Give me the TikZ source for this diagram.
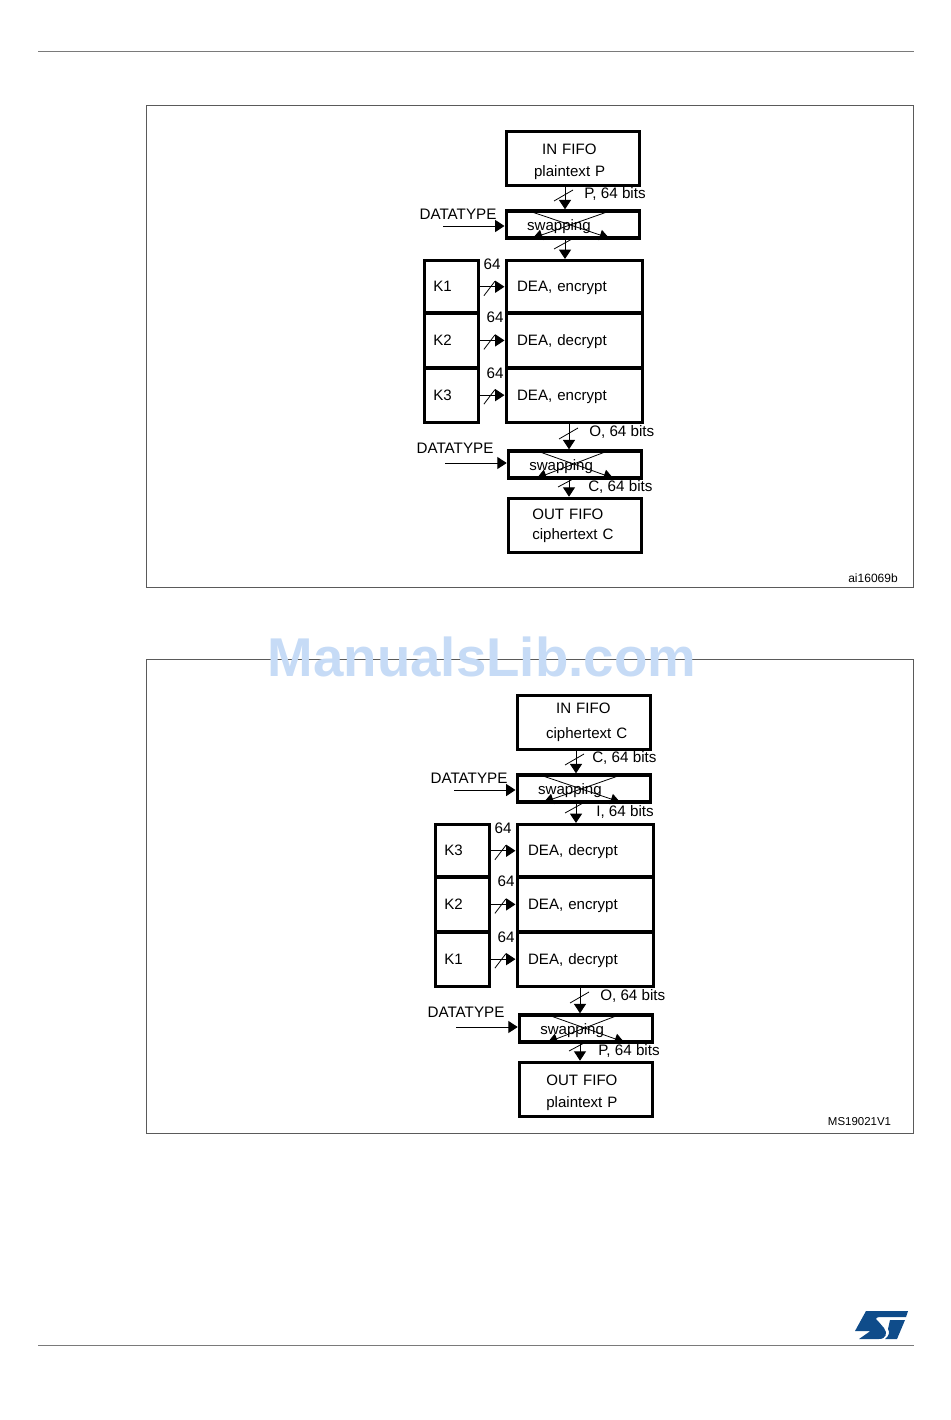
\documentclass[tikz,border=0pt]{standalone}
\usepackage{fontspec}
\setmainfont{Liberation Sans}
\usetikzlibrary{arrows.meta}
\definecolor{framegray}{HTML}{5A5A5A}
\definecolor{rulegray}{HTML}{7A7A7A}
\definecolor{stblue}{HTML}{0F4C8A}
\definecolor{marklight}{HTML}{C6DBF6}
\tikzset{
  boxtext/.style={font=\fontsize{11.3}{16.5}\selectfont},
  fifobox/.style={draw, line width=2.4pt, anchor=north west, boxtext, align=left, inner ysep=0pt,
    minimum height=40.5pt, inner xsep=#1, text width=100pt-2*#1},
  swapbox/.style={draw, line width=2.4pt, anchor=north west, boxtext, align=left, inner ysep=0pt,
    minimum height=20.25pt, inner xsep=15.75pt, text width=68.5pt, text height=10.5pt, text depth=1.8pt},
  keybox/.style={draw, line width=2.4pt, anchor=north west, boxtext, align=left, inner ysep=0pt,
    inner xsep=6.75pt, text width=27pt, text height=9.5pt, text depth=2pt},
  deabox/.style={draw, line width=2.4pt, anchor=north west, boxtext, align=left, inner ysep=0pt,
    inner xsep=8.25pt, text width=85.5pt, text height=9.5pt, text depth=2pt},
  sig/.style={line width=0.75pt, -{Triangle[length=7pt,width=9pt]}},
  crossline/.style={line width=0.6pt, -{Triangle[length=7pt,width=8pt]}},
  busmark/.style={line width=0.6pt},
  lab/.style={font=\fontsize{11.4}{13}\selectfont, inner sep=0pt},
  lableft/.style={lab, anchor=west},
  tag/.style={font=\fontsize{9}{11}\selectfont, inner sep=0pt},
}
\begin{document}
\begin{tikzpicture}[x=0.75pt,y=-0.75pt]
  \useasboundingbox (0,0) rectangle (950,1420);
  % page rules and frames
  \coordinate (headl) at (38,52);
  \coordinate (headr) at (914,52);
  \coordinate (footl) at (38,1345);
  \coordinate (footr) at (914,1345);
  \draw[rulegray, line width=0.75pt] (headl) -- (headr);
  \draw[rulegray, line width=0.75pt] (footl) -- (footr);
  \draw[framegray, line width=0.75pt] (146,105) rectangle (913,587);
  \draw[framegray, line width=0.75pt] (146,659) rectangle (913,1133);
  \node[tag] (tagtop) at (873,578) {ai16069b};
  \node[tag, font=\fontsize{8.6}{11}\selectfont] (tagbot) at (859.5,1122) {MS19021V1};
  % the two panels
  \foreach \p/\sx/\sy/\inpad/\intext/\outpad/\outtext/\plab/\plx/\clab/\clx/\ka/\kb/\kc/\da/\db/\dc in {
    t/0/0/21pt/{\rule{0pt}{12.5pt}\hspace*{6pt}IN~FIFO\\plaintext~P}/18pt/{OUT~FIFO\\[-1.5pt]ciphertext~C}/{P, 64 bits}/584/{C, 64 bits}/588/K1/K2/K3/encrypt/decrypt/encrypt,
    b/11/564/21.75pt/{\hspace*{7.5pt}IN~FIFO\\[2pt]ciphertext~C}/20.25pt/{\rule{0pt}{12.5pt}OUT~FIFO\\plaintext~P}/{C, 64 bits}/581/{P, 64 bits}/587/K3/K2/K1/decrypt/encrypt/decrypt} {
  \begin{scope}[shift={(\sx,\sy)}]
    % input side
    \node[fifobox=\inpad] (\p-in) at (504.5,129.7) {\intext};
    \node[swapbox] (\p-swapa) at (504.5,209.3) {swapping};
    \node[lableft] (\p-plab) at (\plx,193.5) {\plab};
    \node[lab] (\p-typea) at (458,214) {DATATYPE};
    \coordinate (\p-typeaend) at (443,226);
    \coordinate (\p-mida) at (565,0);
    \draw[sig] (\p-typeaend) -- (\p-typeaend -| \p-swapa.west);
    \draw[sig] (\p-in.south -| \p-mida) -- (\p-swapa.north -| \p-mida);
    \draw[busmark] (554,201) -- (573,190);
    \coordinate (\p-xa) at (532,212);
    \coordinate (\p-xb) at (609,238);
    \coordinate (\p-xc) at (607,212);
    \coordinate (\p-xd) at (533,238);
    \draw[crossline] (\p-xa) -- (\p-xb);
    \draw[crossline] (\p-xc) -- (\p-xd);
    % key and DEA stages
    \foreach \n/\kname/\dname/\ytop/\yh/\numx/\numy in {1/\ka/\da/259/52.3/492/264,2/\kb/\db/311.3/55/495/317,3/\kc/\dc/366.3/54.5/495/373} {
      \node[keybox, minimum height=\yh*0.75pt] (\p-k\n) at (422.7,\ytop) {\kname};
      \node[deabox, minimum height=\yh*0.75pt] (\p-d\n) at (504.5,\ytop) {DEA, \dname};
      \node[lab] (\p-num\n) at (\numx,\numy) {64};
      \draw[sig] (\p-k\n.east) -- (\p-d\n.west);
      \draw[busmark, shift={(\p-k\n.east)}] (4,9) -- (15,-5.5);
    }
    \draw[sig] (\p-swapa.south -| \p-mida) -- (\p-d1.north -| \p-mida);
    \draw[busmark] (554,249) -- (572,239);
    % output side
    \node[swapbox] (\p-swapb) at (506.7,449.3) {swapping};
    \node[fifobox=\outpad] (\p-out) at (506.7,496.7) {\outtext};
    \node[lableft] (\p-olab) at (589,432) {O, 64 bits};
    \node[lableft] (\p-clab) at (\clx,487) {\clab};
    \node[lab] (\p-typeb) at (455,448) {DATATYPE};
    \coordinate (\p-typebend) at (445,463);
    \coordinate (\p-midb) at (569,0);
    \draw[sig] (\p-typebend) -- (\p-typebend -| \p-swapb.west);
    \draw[sig] (\p-d3.south -| \p-midb) -- (\p-swapb.north -| \p-midb);
    \draw[sig] (\p-swapb.south -| \p-midb) -- (\p-out.north -| \p-midb);
    \draw[busmark] (559,439) -- (578,428);
    \draw[busmark] (558,487) -- (573,479);
    \coordinate (\p-ya) at (540,452);
    \coordinate (\p-yb) at (613,478);
    \coordinate (\p-yc) at (605,452);
    \coordinate (\p-yd) at (537,478);
    \draw[crossline] (\p-ya) -- (\p-yb);
    \draw[crossline] (\p-yc) -- (\p-yd);
  \end{scope}
  }
  \node[lableft] (ilab) at (596,812) {I, 64 bits};
  % logo
  \fill[stblue] (866,1311) -- (908,1311) -- (906,1317) -- (887,1317) -- (880,1317) .. controls (876,1317) and (875,1319) .. (878,1321) -- (884,1328) .. controls (888,1333) and (886,1339) .. (879,1339) -- (859,1339) -- (869,1332) -- (870,1331) -- (855,1331) -- cycle;
  \fill[stblue] (890,1320) -- (905,1320) -- (897,1339) -- (885,1339) .. controls (889,1336) and (890,1332) .. (888,1329) -- cycle;
  % watermark
  \node[font=\fontsize{41}{45}\bfseries\selectfont, text=marklight, inner sep=0pt] (mark) at (482,657) {ManualsLib.com};
\end{tikzpicture}
\end{document}
